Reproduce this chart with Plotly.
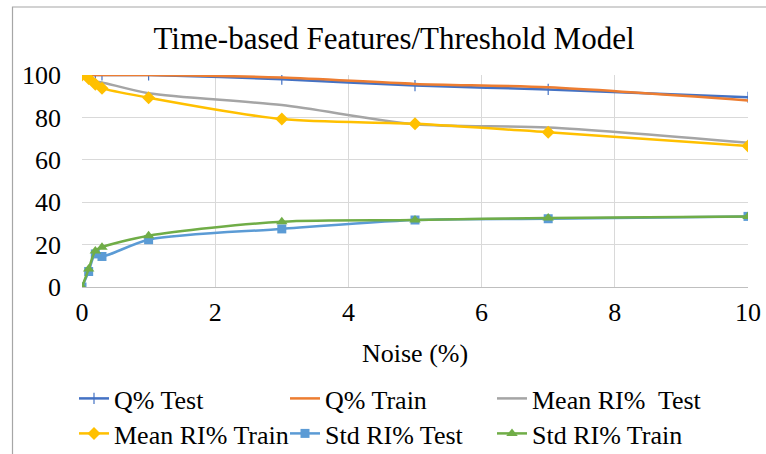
import plotly.graph_objects as go

# ---- data ----
noise = [0, 0.1, 0.2, 0.3, 1, 3, 5, 7, 10]
q_test = [100, 100, 100, 100, 100, 98.0, 95.0, 93.2, 89.5]
q_train = [100, 100, 100, 100, 100, 98.8, 95.8, 94.2, 88.0]
mean_ri_test = [100, 98.4, 96.9, 96.5, 91.4, 85.8, 76.8, 75.2, 68.0]
mean_ri_train = [100, 98.4, 95.6, 93.8, 89.3, 79.2, 77.0, 73.0, 66.5]
std_ri_test = [0, 7.3, 15.6, 14.4, 22.3, 27.4, 31.6, 32.2, 33.3]
std_ri_train = [0, 8.5, 17.0, 18.8, 24.2, 30.8, 31.6, 32.6, 33.3]

series_names = ["Q% Test", "Q% Train", "Mean RI%  Test", "Mean RI% Train", "Std RI% Test", "Std RI% Train"]
x_ticks = [0, 2, 4, 6, 8, 10]
y_ticks = [0, 20, 40, 60, 80, 100]

FONT = "Liberation Serif"

fig = go.Figure()

styles = [
    (q_test, "#4472C4", dict(symbol="line-ns", size=8, line=dict(width=1.2, color="#4472C4"))),
    (q_train, "#ED7D31", None),
    (mean_ri_test, "#A5A5A5", None),
    (mean_ri_train, "#FFC000", dict(symbol="diamond", size=10, color="#FFC000")),
    (std_ri_test, "#5B9BD5", dict(symbol="square", size=9, color="#5B9BD5")),
    (std_ri_train, "#70AD47", dict(symbol="triangle-up", size=10, color="#70AD47")),
]
legend_ids = ["legend", "legend2", "legend3", "legend4", "legend5", "legend6"]

for name, (vals, col, mk), lg in zip(series_names, styles, legend_ids):
    fig.add_trace(go.Scatter(
        x=noise, y=vals, name=name,
        mode="lines+markers" if mk else "lines",
        line=dict(color=col, width=2.5, shape="spline", smoothing=0.8),
        marker=mk if mk else None,
        legend=lg,
    ))

# plot area: x 82..748, y 75..287
L, R, T, B = 82, 18, 75, 167
W, H = 766, 454
pw, ph = W - L - R, H - T - B

def px_x(p):
    return (p - L) / pw

def px_y(p):
    return (T + ph - p) / ph

legend_common = dict(orientation="v", xanchor="left", yanchor="top",
                     font=dict(size=26, family=FONT, color="black"),
                     bgcolor="rgba(0,0,0,0)", itemwidth=30)

# legend text left edges (px) for the 3 columns, and row tops
col_text_x = [114, 325, 532]
row_top = [375, 410]
legend_layout = {}
for i, lg in enumerate(legend_ids):
    r, c = divmod(i, 3)
    legend_layout[lg] = dict(x=px_x(col_text_x[c] - 40), y=px_y(row_top[r]), **legend_common)

fig.update_layout(
    width=W, height=H,
    margin=dict(l=L, r=R, t=T, b=B, autoexpand=False),
    paper_bgcolor="white", plot_bgcolor="white",
    font=dict(family=FONT, size=26, color="black"),
    title=dict(text="Time-based Features/Threshold Model", x=394 / W, xanchor="center",
               y=1 - 38 / H, yanchor="middle", font=dict(size=31, family=FONT, color="black")),
    xaxis=dict(range=[0, 10], tickvals=x_ticks, showgrid=True, gridcolor="#D9D9D9", gridwidth=1,
               zeroline=False, showline=True, linecolor="#BFBFBF", linewidth=1, ticks="",
               ticklabelstandoff=2, tickfont=dict(size=26, family=FONT, color="black")),
    yaxis=dict(range=[0, 100], tickvals=y_ticks, showgrid=True, gridcolor="#D9D9D9", gridwidth=1,
               zeroline=False, showline=False, ticks="", ticklabelstandoff=20,
               tickfont=dict(size=26, family=FONT, color="black")),
    showlegend=True,
    annotations=[dict(text="Noise (%)", x=0.5, y=px_y(353), xref="paper", yref="paper",
                      xanchor="center", yanchor="middle", showarrow=False,
                      font=dict(size=26, family=FONT, color="black"))],
    shapes=[dict(type="rect", xref="paper", yref="paper", x0=px_x(12.5), x1=px_x(800),
                 y0=px_y(500), y1=px_y(7), line=dict(color="#A6A6A6", width=1.2),
                 fillcolor="rgba(0,0,0,0)", layer="below")],
    **legend_layout,
)

fig.write_html("out.html", config={"displayModeBar": False},
               post_script="document.body.style.margin='0';document.body.style.padding='0';")
